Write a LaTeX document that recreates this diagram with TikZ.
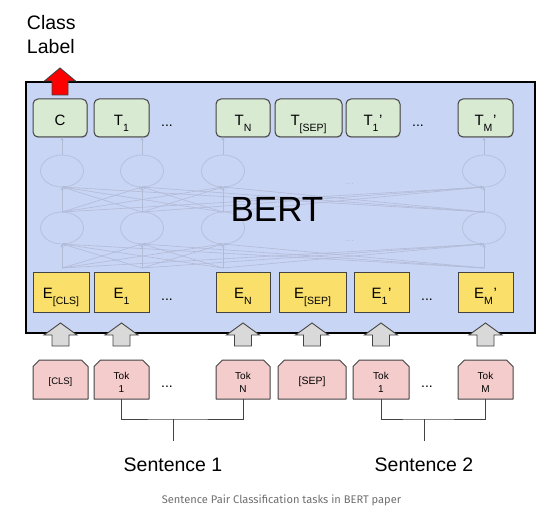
\documentclass[tikz,border=0pt]{standalone}
\usepackage{fontspec}
\setmainfont{Liberation Sans}
\newfontfamily\capfont{Fira Sans}
\usetikzlibrary{shapes.geometric,arrows.meta,shadows}
\definecolor{bertblue}{RGB}{201,213,245}
\definecolor{tgreen}{RGB}{217,234,211}
\definecolor{eyellow}{RGB}{250,223,106}
\definecolor{tokpink}{RGB}{244,204,204}
\definecolor{arrgray}{RGB}{217,217,217}
\definecolor{edgecol}{RGB}{67,67,67}
\definecolor{faintline}{RGB}{178,187,214}
\definecolor{faintell}{RGB}{183,192,220}
\definecolor{capgray}{RGB}{110,110,110}
\newcommand\sbx[1]{\raisebox{-6.3pt}{\fontsize{10.5}{10.5}\selectfont #1}}
\newcommand\sbp[1]{\sbx{#1}\hspace{0.6pt}'}
\begin{document}
\begin{tikzpicture}[x=1pt,y=-1pt,
  every node/.style={inner sep=0pt,outer sep=0pt},
  gbox/.style={draw=edgecol,fill=tgreen,line width=1pt,rounded corners=5pt,
    minimum height=38pt,minimum width=#1,text height=15.4pt,text depth=0pt,
    font=\fontsize{15}{15}\selectfont,
    drop shadow={shadow xshift=0.6pt,shadow yshift=-1pt,opacity=0.35}},
  ybox/.style={draw=edgecol,fill=eyellow,line width=1pt,
    minimum height=39pt,minimum width=#1,text height=11.2pt,text depth=0pt,
    font=\fontsize{15}{15}\selectfont},
  tshape/.style={minimum height=39pt,minimum width=#1},
  tokfill/.style={draw=edgecol,fill=tokpink,line width=1pt,line join=round},
  toktext/.style={font=\fontsize{10}{13.3}\selectfont,align=center,anchor=base},
  mainbox/.style={draw=black,fill=bertblue,line width=2.7pt,minimum width=509pt,minimum height=251pt},
  faint/.style={draw=faintline,line width=0.6pt,-{Stealth[length=3.5pt,width=3pt]}},
  fell/.style={ellipse,draw=faintell,line width=0.8pt,minimum width=43pt,minimum height=32pt},
  fdots/.style={text=faintell,font=\fontsize{10}{10}\selectfont,anchor=base},
  dots/.style={font=\fontsize{14}{14}\selectfont,anchor=base},
  grayarrow/.style={draw=edgecol,fill=arrgray,line width=0.9pt,line join=miter},
  redarrow/.style={draw=edgecol,fill=red,line width=0.9pt,line join=miter},
  bracket/.style={draw=edgecol,line width=1pt},
  biglabel/.style={font=\fontsize{19.5}{24}\selectfont}
]
\useasboundingbox (0,0) rectangle (554,521);

% main BERT box
\node[mainbox] (bert) at (280.5,207.5) {};

% faint network
\foreach \k/\x in {1/62,2/142,3/223,4/484}{
  \coordinate (B\k) at (\x,268);
  \node[fell] (L\k) at (\x,228) {};
  \node[fell] (U\k) at (\x,171) {};
}
\foreach \i in {1,...,4}{
  \foreach \j in {1,...,4}{
    \draw[faint] (B\i) -- (L\j.south);
    \draw[faint] (L\i.north) -- (U\j.south);
  }
}
\node[fdots] (fd1) at (350,185) {...};
\node[fdots] (fd2) at (350,242) {...};
\node[font=\fontsize{35}{35}\selectfont,anchor=base] (berttext) at (277,222) {BERT};

% top row
\node[gbox=54pt] (c)    at (60,118)    {C};
\node[gbox=55pt] (t1)   at (121.5,118) {T\sbx{1}};
\node[gbox=54pt] (tn)   at (243,118)   {T\sbx{N}};
\node[gbox=67pt] (tsep) at (308.5,118) {T\sbx{[SEP]}};
\node[gbox=54pt] (t1p)  at (373,118)   {T\sbp{1}};
\node[gbox=55pt] (tmp)  at (485.5,118) {T\sbp{M}};
\node[dots] (td1) at (167,127) {...};
\node[dots] (td2) at (418,127) {...};

\draw[faint] (U1.north) -- (U1.north |- c.south);
\draw[faint] (U2.north) -- (U2.north |- t1.south);
\draw[faint] (U3.north) -- (U3.north |- tn.south);
\draw[faint] (U4.north) -- (U4.north |- tmp.south);

% embeddings
\node[ybox=56pt] (ecls) at (61,292.5)    {E\sbx{[CLS]}};
\node[ybox=55pt] (e1)   at (121.5,292.5) {E\sbx{1}};
\node[ybox=54pt] (en)   at (243,292.5)   {E\sbx{N}};
\node[ybox=67pt] (esep) at (312.5,292.5) {E\sbx{[SEP]}};
\node[ybox=55pt] (e1p)  at (381.5,292.5) {E\sbp{1}};
\node[ybox=55pt] (emp)  at (485.5,292.5) {E\sbp{M}};
\node[dots] (ed1) at (167,301) {...};
\node[dots] (ed2) at (427,301) {...};

% tokens (chamfered boxes)
\node[tshape=55pt] (kcls) at (60.5,379.5)  {};
\node[tshape=55pt] (k1)   at (121.5,379.5) {};
\node[tshape=54pt] (kn)   at (243,379.5)   {};
\node[tshape=68pt] (ksep) at (312,379.5)   {};
\node[tshape=56pt] (k1p)  at (381,379.5)   {};
\node[tshape=55pt] (km)   at (485.5,379.5) {};
\foreach \n in {kcls,k1,kn,ksep,k1p,km}{
  \draw[tokfill] (\n.south west) -- ([yshift=-6.5pt]\n.north west) -- ([xshift=6.5pt]\n.north west)
    -- ([xshift=-6.5pt]\n.north east) -- ([yshift=-6.5pt]\n.north east) -- (\n.south east) -- cycle;
}
\node[toktext,font=\fontsize{9.5}{13.3}\selectfont] (kclst) at ([yshift=-5pt]kcls.center) {[CLS]};
\node[toktext] (k1t) at ([yshift=-12.8pt]k1.center) {Tok\\1};
\node[toktext] (knt) at ([yshift=-12.8pt]kn.center) {Tok\\N};
\node[toktext,font=\fontsize{10.5}{13.3}\selectfont] (ksept) at ([yshift=-5.3pt]ksep.center) {[SEP]};
\node[toktext] (k1pt) at ([yshift=-12.8pt]k1p.center) {Tok\\1};
\node[toktext] (kmt) at ([yshift=-12.8pt]km.center) {Tok\\M};
\node[dots] (kd1) at (167,387) {...};
\node[dots] (kd2) at (427,387) {...};

% gray block arrows
\foreach \n in {kcls,k1,kn,ksep,k1p,km}{
  \draw[grayarrow] ([yshift=37pt]\n.north) -- ++(16.5,12) -- ++(-8,0) -- ++(0,11)
    -- ++(-17,0) -- ++(0,-11) -- ++(-8,0) -- cycle;
}

% red output arrow
\draw[redarrow] ([yshift=31pt]c.north) -- ++(15.5,13) -- ++(-7.5,0) -- ++(0,14)
  -- ++(-16,0) -- ++(0,-14) -- ++(-7.5,0) -- cycle;
\node[biglabel,anchor=base west,align=left] (classlabel) at (27,54) {Class\\Label};

% sentence brackets
\coordinate (b1) at (173,419);
\coordinate (s1top) at (173,441);
\coordinate (b2) at (424,419);
\coordinate (s2top) at (424,441);
\draw[bracket] (k1.south) |- (b1) -| (kn.south);
\draw[bracket] (b1) -- (s1top);
\draw[bracket] (k1p.south) |- (b2) -| (km.south);
\draw[bracket] (b2) -- (s2top);
\node[biglabel,anchor=base] (sent1) at (173,471) {Sentence 1};
\node[biglabel,anchor=base] (sent2) at (424,471) {Sentence 2};

% caption
\node[anchor=base,text=capgray,font=\capfont\fontsize{11.1}{13}\selectfont] (caption) at (281.5,503)
  {Sentence Pair Classification tasks in BERT paper};
\end{tikzpicture}
\end{document}
